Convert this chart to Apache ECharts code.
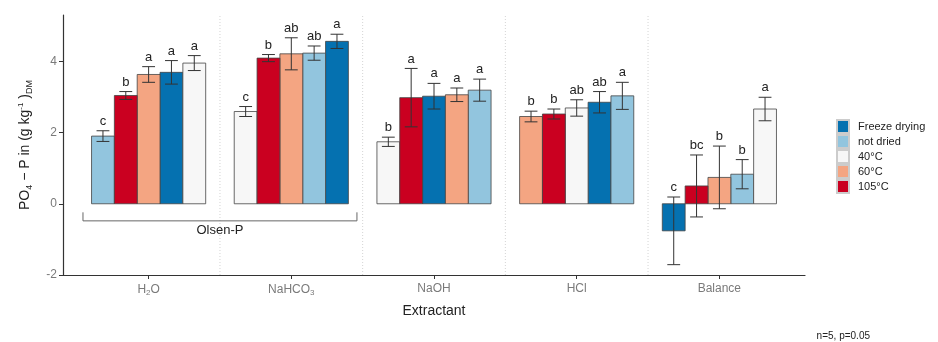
<!DOCTYPE html>
<html><head><meta charset="utf-8">
<script src="https://cdn.jsdelivr.net/npm/echarts@6/dist/echarts.min.js"></script>
<style>html,body{margin:0;padding:0;background:#fff}#c{width:938px;height:342px}</style>
</head><body><div id="c"></div>
<script>
// ---- data ----
const categories = ['H2O', 'NaHCO3', 'NaOH', 'HCl', 'Balance'];
const categoryLabels = ['H{sub|2}O', 'NaHCO{sub|3}', 'NaOH', 'HCl', 'Balance'];
const treatments = ['Freeze drying', 'not dried', '40°C', '60°C', '105°C'];
const colors = ['#0571b0', '#92c5de', '#f7f7f7', '#f4a582', '#ca0020'];

const freezeDrying = [3.69, 4.56, 3.02, 2.85, -0.76];
const freezeDryingErr = [0.33, 0.20, 0.36, 0.30, 0.95];
const freezeDryingLetters = ['a', 'a', 'a', 'ab', 'c'];

const notDried = [1.90, 4.23, 3.19, 3.03, 0.83];
const notDriedErr = [0.15, 0.20, 0.31, 0.38, 0.41];
const notDriedLetters = ['c', 'ab', 'a', 'a', 'b'];

const dried40 = [3.95, 2.59, 1.74, 2.69, 2.66];
const dried40Err = [0.21, 0.14, 0.13, 0.23, 0.33];
const dried40Letters = ['a', 'c', 'b', 'ab', 'a'];

const dried60 = [3.63, 4.21, 3.06, 2.45, 0.74];
const dried60Err = [0.22, 0.45, 0.19, 0.15, 0.88];
const dried60Letters = ['a', 'ab', 'a', 'b', 'b'];

const dried105 = [3.04, 4.09, 2.98, 2.52, 0.50];
const dried105Err = [0.11, 0.10, 0.82, 0.14, 0.87];
const dried105Letters = ['b', 'b', 'a', 'b', 'bc'];

const yTicks = [-2, 0, 2, 4];
const groupLabel = 'Olsen-P';
const noteText = 'n=5, p=0.05';

// ---- build ----
const values = [freezeDrying, notDried, dried40, dried60, dried105];
const errs = [freezeDryingErr, notDriedErr, dried40Err, dried60Err, dried105Err];
const letters = [freezeDryingLetters, notDriedLetters, dried40Letters, dried60Letters, dried105Letters];

// rank of each treatment inside each category (bars sorted ascending)
const ranks = values.map(() => []);
categories.forEach((c, i) => {
  const order = values.map((v, s) => s).sort((a, b) => values[a][i] - values[b][i]);
  order.forEach((s, r) => { ranks[s][i] = r; });
});

const BAR_W = 0.16;
const FONT = "'Liberation Sans', Arial, sans-serif";

function barRender(sIdx) {
  return function (params, api) {
    const i = api.value(0), v = api.value(1), e = api.value(2);
    const xc = i + (ranks[sIdx][i] - 2) * BAR_W;
    const p0 = api.coord([xc - BAR_W / 2, v]);
    const p1 = api.coord([xc + BAR_W / 2, 0]);
    const top = api.coord([xc, v + e]);
    const bot = api.coord([xc, v - e]);
    const cap = api.size([0.045, 0])[0];
    const lineStyle = { stroke: '#333', lineWidth: 1 };
    return {
      type: 'group',
      children: [
        { type: 'rect', shape: { x: p0[0], y: Math.min(p0[1], p1[1]), width: p1[0] - p0[0], height: Math.abs(p1[1] - p0[1]) },
          style: { fill: colors[sIdx], stroke: '#444', lineWidth: 0.8 } },
        { type: 'line', shape: { x1: top[0], y1: top[1], x2: bot[0], y2: bot[1] }, style: lineStyle },
        { type: 'line', shape: { x1: top[0] - cap, y1: top[1], x2: top[0] + cap, y2: top[1] }, style: lineStyle },
        { type: 'line', shape: { x1: bot[0] - cap, y1: bot[1], x2: bot[0] + cap, y2: bot[1] }, style: lineStyle },
        { type: 'text', style: { x: top[0], y: top[1] - 3, text: letters[sIdx][params.dataIndex], align: 'center', verticalAlign: 'bottom',
          font: '13px ' + FONT, fill: '#222' } }
      ]
    };
  };
}

const series = treatments.map((name, s) => ({
  name: name,
  type: 'custom',
  xAxisIndex: 0, yAxisIndex: 0,
  itemStyle: { color: colors[s], borderColor: '#ccc', borderWidth: 0.5 },
  encode: { x: 0, y: 1 },
  data: categories.map((c, i) => [i, values[s][i], errs[s][i]]),
  renderItem: barRender(s),
  z: 3
}));

// separators between categories
series.push({
  type: 'custom', xAxisIndex: 0, yAxisIndex: 0, silent: true, z: 1,
  data: categories.slice(1).map((c, i) => [i + 0.5]),
  encode: { x: 0 },
  renderItem: function (params, api) {
    const x = api.value(0);
    const a = api.coord([x, -2]);
    const b = api.coord([x, 5.3]);
    return { type: 'line', shape: { x1: a[0], y1: a[1], x2: b[0], y2: b[1] },
      style: { stroke: '#d4d4d4', lineWidth: 1, lineDash: [1, 2] } };
  }
});

// Olsen-P bracket spanning the first two categories
series.push({
  type: 'custom', xAxisIndex: 0, yAxisIndex: 0, silent: true, z: 2,
  data: [[0 - 0.46, 1 + 0.46]],
  encode: { x: [0, 1] },
  renderItem: function (params, api) {
    const l = api.coord([api.value(0), -0.48]);
    const r = api.coord([api.value(1), -0.48]);
    const lt = api.coord([api.value(0), -0.24]);
    const st = { stroke: '#666', lineWidth: 1 };
    return { type: 'group', children: [
      { type: 'line', shape: { x1: l[0], y1: l[1], x2: r[0], y2: r[1] }, style: st },
      { type: 'line', shape: { x1: l[0], y1: l[1], x2: l[0], y2: lt[1] }, style: st },
      { type: 'line', shape: { x1: r[0], y1: r[1], x2: r[0], y2: lt[1] }, style: st },
      { type: 'text', style: { x: (l[0] + r[0]) / 2, y: l[1] + 3, text: groupLabel, align: 'center', verticalAlign: 'top',
        font: '13px ' + FONT, fill: '#222' } }
    ] };
  }
});

const chart = echarts.init(document.getElementById('c'), null, { renderer: 'canvas' });
chart.setOption({
  animation: false,
  backgroundColor: '#fff',
  textStyle: { fontFamily: FONT },
  grid: [
    { left: 63, right: 133, top: 15, bottom: 67 },
    { left: 77.3, right: 147.3, top: 15, bottom: 67 }
  ],
  xAxis: [
    { type: 'value', gridIndex: 0, min: -0.6, max: 4.6,
      axisLine: { show: true, onZero: false, lineStyle: { color: '#333', width: 1.2 } },
      axisTick: { show: false }, axisLabel: { show: false }, splitLine: { show: false } },
    { type: 'category', gridIndex: 1, data: categoryLabels, boundaryGap: true,
      axisLine: { show: true, onZero: false, lineStyle: { color: '#333', width: 1.2 } },
      axisTick: { show: true, alignWithLabel: true, length: 4, lineStyle: { color: '#333' } },
      axisLabel: { margin: 8, color: '#7a7a7a', fontSize: 12, fontFamily: FONT,
        rich: { sub: { fontSize: 8, color: '#7a7a7a', verticalAlign: 'bottom', padding: [6, 0, 0, 0] } } },
      name: 'Extractant', nameLocation: 'middle', nameGap: 29,
      nameTextStyle: { fontSize: 14, color: '#222', fontFamily: FONT } }
  ],
  yAxis: [
    { type: 'value', gridIndex: 0, min: -2, max: 5.3, interval: 2,
      axisLine: { show: true, onZero: false, lineStyle: { color: '#333', width: 1.2 } },
      axisTick: { show: true, length: 4, customValues: yTicks, lineStyle: { color: '#333' } },
      axisLabel: { customValues: yTicks, margin: 6, color: '#7a7a7a', fontSize: 12, fontFamily: FONT },
      splitLine: { show: false },
      name: 'PO{sub|4} − P in (g kg{sup|-1} ){sub|DM}', nameLocation: 'middle', nameGap: 29,
      nameTextStyle: { fontSize: 14, color: '#222', fontFamily: FONT,
        rich: { sub: { fontSize: 9, color: '#222', verticalAlign: 'bottom', padding: [8, 0, 0, 0] },
                sup: { fontSize: 8, color: '#222', verticalAlign: 'top', padding: [0, 0, 8, 0] } } } },
    { type: 'value', gridIndex: 1, min: -2, max: 5.3, show: false,
      axisLine: { onZero: false } }
  ],
  legend: {
    data: treatments, orient: 'vertical', left: 831, top: 114,
    itemWidth: 12, itemHeight: 13, itemGap: 0, icon: 'rect',
    textStyle: { fontSize: 11, color: '#222', fontFamily: FONT, padding: [0, 0, 0, 4] },
    selectedMode: false
  },
  graphic: [
    { type: 'text', right: 68, bottom: 1, style: { text: noteText, font: '10px ' + FONT, fill: '#222' } }
  ],
  series: series
});
</script>
</body></html>
